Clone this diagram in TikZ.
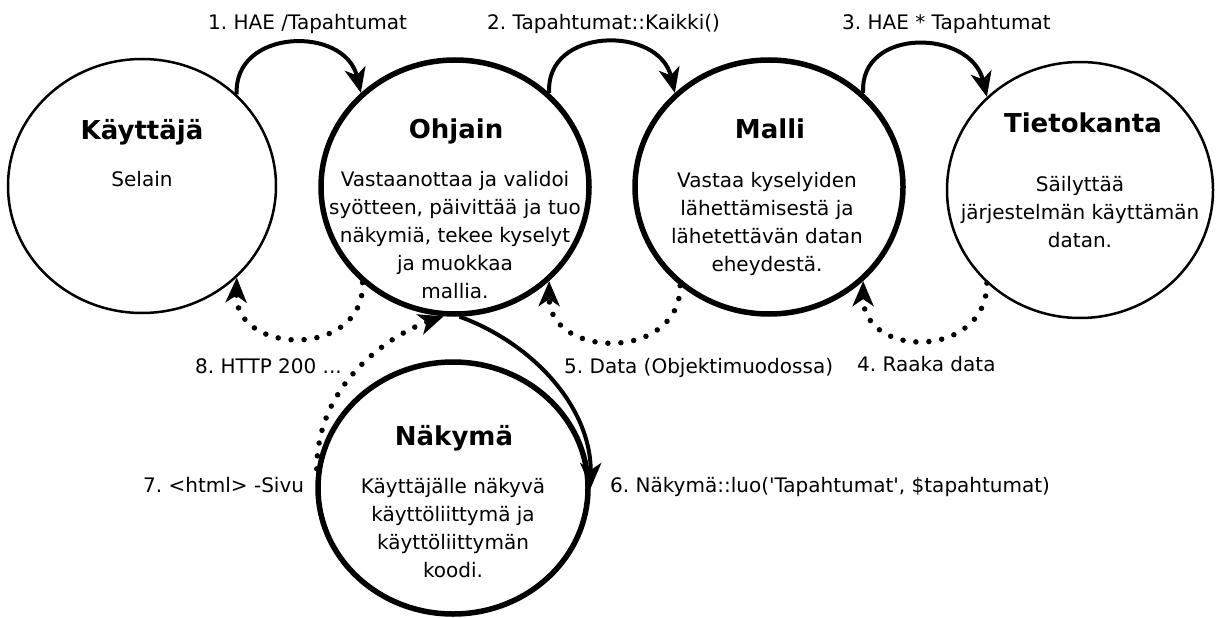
\documentclass[tikz,border=0pt]{standalone}
\usepackage{fontspec}
\setmainfont{DejaVu Sans}
\usetikzlibrary{shapes.geometric,arrows.meta}
\frenchspacing
\begin{document}
\begin{tikzpicture}[x=1pt,y=-1pt,
  role/.style={ellipse,draw,inner sep=0pt,minimum width=268pt,minimum height=254pt},
  thinrole/.style={role,line width=2.5pt},
  mainrole/.style={role,line width=5.5pt},
  title/.style={font=\fontsize{26}{30}\selectfont\bfseries,anchor=base,inner sep=0pt},
  body/.style={font=\fontsize{20}{28}\selectfont,align=center,anchor=north,inner sep=0pt},
  lbl/.style={font=\fontsize{20}{24}\selectfont,anchor=base west,inner sep=0pt},
  tip/.style={-{Stealth[length=25pt,width=21pt,inset=7pt]}},
  call/.style={tip,line width=4pt},
  reply/.style={tip,line width=5.5pt,line cap=round,dash pattern=on 0pt off 13pt}]
\useasboundingbox (0,0) rectangle (1221,618);

% the five parts of the MVC flow
\node[thinrole] (kay) at (142,186) {};
\node[mainrole] (ohj) at (455,187) {};
\node[mainrole] (mal) at (769,187) {};
\node[thinrole,minimum width=266pt,minimum height=256pt] (tie) at (1080,190) {};
\node[mainrole,minimum width=270pt,minimum height=252pt] (nak) at (453,488) {};

% titles and descriptions
\node[title] (kayT) at (142,139) {Käyttäjä};
\node[body,anchor=base] (kayB) at (142,186) {Selain};
\node[title] (ohjT) at (456,138) {Ohjain};
\node[body] (ohjB) at (455,171.5) {Vastaanottaa ja validoi\\syötteen, päivittää ja tuo\\näkymiä, tekee kyselyt\\ja muokkaa\\mallia.};
\node[title] (malT) at (770,138) {Malli};
\node[body] (malB) at (767,172.5) {Vastaa kyselyiden\\lähettämisestä ja\\lähetettävän datan\\eheydestä.};
\node[title] (tieT) at (1083,132) {Tietokanta};
\node[body] (tieB) at (1080,176.5) {Säilyttää\\järjestelmän käyttämän\\datan.};
\node[title] (nakT) at (454,445) {Näkymä};
\node[body] (nakB) at (453,478.5) {Käyttäjälle näkyvä\\käyttöliittymä ja\\käyttöliittymän\\koodi.};

% request chain along the top
\draw[call] (kay.44) .. controls +(-4,-66) and +(-16,-68) .. (ohj.135);
\draw[call] (ohj.45) .. controls +(-4,-66) and +(-16,-68) .. (mal.135);
\draw[call] (mal.45) .. controls +(-4,-66) and +(-16,-68) .. (tie.135);

% replies along the bottom
\draw[reply] (tie.225) .. controls +(0,76) and +(0,78) .. (mal.315);
\draw[reply] (mal.228) .. controls +(0,76) and +(0,78) .. (ohj.315);
\draw[reply] (ohj.226) .. controls +(2,76) and +(-2,78) .. (kay.316);

% controller <-> view
\draw[call] (ohj.272) .. controls +(72,26) and +(0,-82) .. (nak.0);
\draw[reply] (nak.172) .. controls +(0,-90) and +(-47,16) .. (ohj.265);

% flow labels
\node[lbl] (l1) at (208,30) {1. HAE /Tapahtumat};
\node[lbl] (l2) at (487,30) {2. Tapahtumat::Kaikki()};
\node[lbl] (l3) at (842,30) {3. HAE * Tapahtumat};
\node[lbl] (l4) at (857,371) {4. Raaka data};
\node[lbl] (l5) at (564,373) {5. Data (Objektimuodossa)};
\node[lbl] (l6) at (610,492) {6. Näkymä::luo(\textquotesingle Tapahtumat\textquotesingle, \$tapahtumat)};
\node[lbl] (l7) at (143,492) {7. <html> -Sivu};
\node[lbl] (l8) at (195,373) {8. HTTP 200 ...};
\end{tikzpicture}
\end{document}
